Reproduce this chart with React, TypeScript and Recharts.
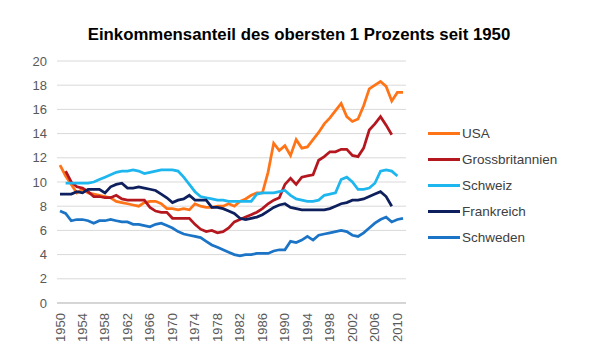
import React from 'react';
import { LineChart, Line, XAxis, YAxis, CartesianGrid } from 'recharts';

const years: number[] = [];
for (let y = 1950; y <= 2011; y++) years.push(y);

const usa = [11.4, 10.5, 9.8, 9.1, 9.4, 9.1, 9.0, 8.9, 8.8, 8.7, 8.4, 8.3, 8.2, 8.1, 8.0, 8.3, 8.4, 8.4, 8.2, 7.8, 7.8, 7.7, 7.8, 7.7, 8.2, 8.0, 7.9, 7.9, 8.0, 8.0, 8.2, 8.0, 8.4, 8.6, 8.9, 9.1, 9.1, 10.8, 13.2, 12.6, 13.0, 12.2, 13.5, 12.8, 12.9, 13.5, 14.1, 14.8, 15.3, 15.9, 16.5, 15.4, 15.0, 15.2, 16.3, 17.7, 18.0, 18.3, 17.9, 16.7, 17.4, 17.4];
const gb = [null, 10.9, 10.0, 9.6, 9.5, 9.2, 8.8, 8.8, 8.7, 8.7, 8.9, 8.6, 8.5, 8.5, 8.5, 8.5, 7.9, 7.6, 7.5, 7.5, 7.0, 7.0, 7.0, 7.0, 6.5, 6.1, 5.9, 6.0, 5.8, 5.9, 6.2, 6.7, 6.9, 7.1, 7.3, 7.5, 7.8, 8.2, 8.5, 8.7, 9.8, 10.3, 9.8, 10.4, 10.5, 10.6, 11.8, 12.1, 12.5, 12.5, 12.7, 12.7, 12.2, 12.1, 12.8, 14.3, 14.8, 15.4, 14.7, 13.9, null, null];
const ch = [null, 9.9, 9.9, 9.9, 9.9, 9.9, 10.0, 10.2, 10.4, 10.6, 10.8, 10.9, 10.9, 11.0, 10.9, 10.7, 10.8, 10.9, 11.0, 11.0, 11.0, 10.9, 10.4, 9.8, 9.2, 8.8, 8.7, 8.6, 8.5, 8.5, 8.4, 8.4, 8.4, 8.4, 8.4, 9.0, 9.1, 9.1, 9.1, 9.2, 9.3, 8.9, 8.6, 8.5, 8.4, 8.4, 8.5, 8.9, 9.0, 9.1, 10.2, 10.4, 10.0, 9.4, 9.4, 9.5, 9.9, 10.9, 11.0, 10.9, 10.5, null];
const fr = [9.0, 9.0, 9.0, 9.2, 9.1, 9.4, 9.4, 9.4, 9.1, 9.6, 9.8, 9.9, 9.5, 9.5, 9.6, 9.5, 9.4, 9.3, 9.0, 8.7, 8.3, 8.5, 8.6, 8.9, 8.5, 8.5, 8.5, 7.9, 7.9, 7.8, 7.6, 7.4, 7.0, 6.9, 7.0, 7.1, 7.3, 7.6, 7.9, 8.1, 8.2, 7.9, 7.8, 7.7, 7.7, 7.7, 7.7, 7.7, 7.8, 8.0, 8.2, 8.3, 8.5, 8.5, 8.6, 8.8, 9.0, 9.2, 8.8, 8.0, null, null];
const se = [7.6, 7.4, 6.8, 6.9, 6.9, 6.8, 6.6, 6.8, 6.8, 6.9, 6.8, 6.7, 6.7, 6.5, 6.5, 6.4, 6.3, 6.5, 6.6, 6.4, 6.2, 5.9, 5.7, 5.6, 5.5, 5.4, 5.1, 4.8, 4.6, 4.4, 4.2, 4.0, 3.9, 4.0, 4.0, 4.1, 4.1, 4.1, 4.3, 4.4, 4.4, 5.1, 5.0, 5.2, 5.5, 5.2, 5.6, 5.7, 5.8, 5.9, 6.0, 5.9, 5.6, 5.5, 5.8, 6.2, 6.6, 6.9, 7.1, 6.7, 6.9, 7.0];

const yTicks = [0, 2, 4, 6, 8, 10, 12, 14, 16, 18, 20];

const series = [
  { key: 'USA', values: usa, color: '#FF7417' },
  { key: 'Grossbritannien', values: gb, color: '#B5171F' },
  { key: 'Schweiz', values: ch, color: '#1DB6EE' },
  { key: 'Frankreich', values: fr, color: '#0E1F5E' },
  { key: 'Schweden', values: se, color: '#1B74C5' },
];

const data = years.map((year, i) => {
  const row: any = { year };
  series.forEach((s) => {
    row[s.key] = s.values[i];
  });
  return row;
});

const FONT = '"Liberation Sans", Arial, sans-serif';

const XTick = (props: any) => {
  const { x, y, payload } = props;
  return (
    <text
      x={0}
      y={0}
      transform={`translate(${x + 4.5},${y + 2}) rotate(-90)`}
      textAnchor="end"
      fontSize={13}
      fill="#595959"
      fontFamily={FONT}
    >
      {payload.value}
    </text>
  );
};

export default function App() {
  return (
    <div style={{ position: 'absolute', left: 0, top: 0, width: 590, height: 356, background: '#fff' }}>
      <div
        style={{
          position: 'absolute',
          left: 0,
          top: 25,
          width: 598,
          textAlign: 'center',
          fontFamily: FONT,
          fontWeight: 'bold',
          fontSize: 16.8,
          color: '#000',
        }}
      >
        Einkommensanteil des obersten 1 Prozents seit 1950
      </div>
      <LineChart
        width={590}
        height={356}
        data={data}
        margin={{ top: 61, right: 184, bottom: 0, left: 0 }}
      >
        <CartesianGrid vertical={false} stroke="#d9d9d9" strokeWidth={1} />
        <XAxis
          dataKey="year"
          type="category"
          interval={3}
          tick={<XTick />}
          tickLine={false}
          axisLine={{ stroke: '#bfbfbf' }}
          height={53}
          padding={{ left: 3, right: 3 }}
        />
        <YAxis
          domain={[0, 20]}
          ticks={yTicks}
          width={57}
          axisLine={false}
          tickLine={false}
          tickMargin={4}
          tick={{ fontSize: 13, fill: '#595959', fontFamily: FONT }}
        />
        {series.map((s) => (
          <Line
            key={s.key}
            dataKey={s.key}
            stroke={s.color}
            strokeWidth={2.75}
            dot={false}
            isAnimationActive={false}
            type="linear"
          />
        ))}
      </LineChart>
      <div style={{ position: 'absolute', left: 428, top: 120, fontFamily: FONT }}>
        {series.map((s) => (
          <div key={s.key} style={{ display: 'flex', alignItems: 'center', height: 26 }}>
            <div style={{ width: 32, height: 3, background: s.color, marginRight: 2 }} />
            <span style={{ fontSize: 13.5, color: '#404040' }}>{s.key}</span>
          </div>
        ))}
      </div>
    </div>
  );
}
